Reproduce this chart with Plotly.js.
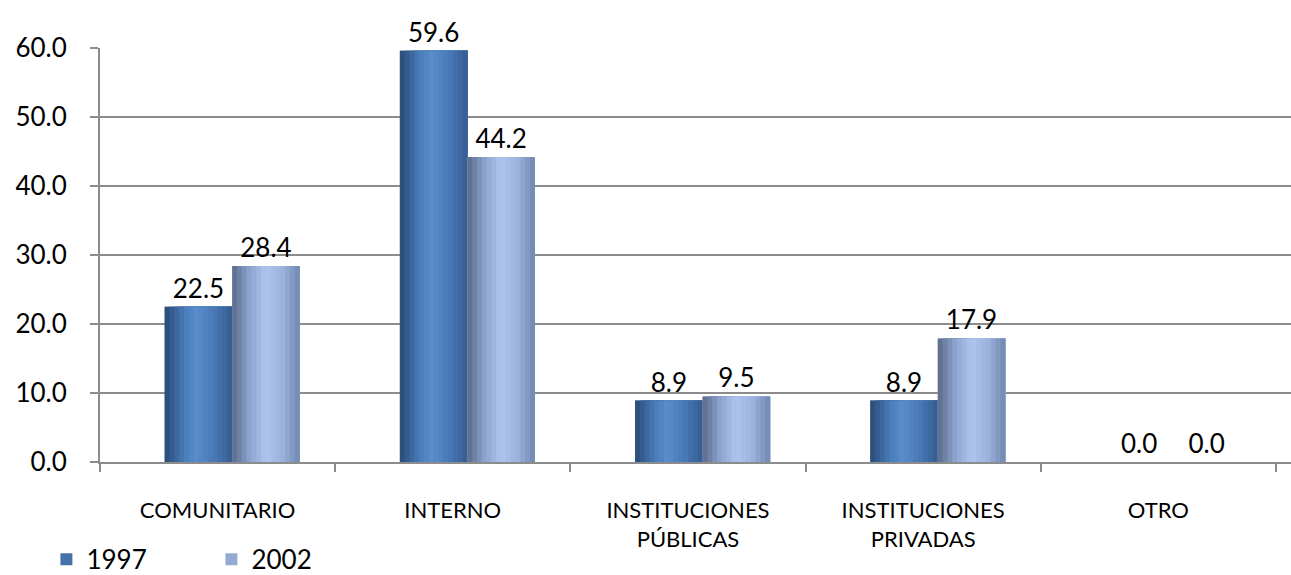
<!DOCTYPE html>
<html>
<head>
<meta charset="utf-8">
<script src="https://cdn.plot.ly/plotly-3.0.1.min.js"></script>
<style>html,body{margin:0;padding:0;background:#fff;}#chart{width:1291px;height:575px;}</style>
</head>
<body>
<div id="chart"></div>
<script>
// ---- data ----
const categories = ['COMUNITARIO', 'INTERNO', 'INSTITUCIONES<br>PÚBLICAS', 'INSTITUCIONES<br>PRIVADAS', 'OTRO'];
const seriesNames = ['1997', '2002'];
const values1997 = [22.5, 59.6, 8.9, 8.9, 0.0];
const values2002 = [28.4, 44.2, 9.5, 17.9, 0.0];

// ---- style ----
const FONT = 'Lato, "Open Sans", sans-serif';
const BAR_W = 0.287;
const SHIFT = 0.062;
const STRIPS = 14;
const legendColors = ['#4672aa', '#95aad2'];
const gradStops = [
  [[0, [42, 74, 117]], [0.3, [74, 125, 187]], [0.48, [90, 141, 204]], [0.75, [71, 119, 180]], [1, [53, 92, 145]]],
  [[0, [90, 106, 136]], [0.25, [139, 162, 204]], [0.5, [174, 198, 238]], [0.75, [154, 178, 220]], [1, [112, 136, 176]]]
];
function interp(stops, t) {
  for (let i = 0; i < stops.length - 1; i++) {
    const [t0, c0] = stops[i], [t1, c1] = stops[i + 1];
    if (t >= t0 && t <= t1) {
      const f = (t - t0) / (t1 - t0);
      return 'rgb(' + c0.map((v, k) => Math.round(v + (c1[k] - v) * f)).join(',') + ')';
    }
  }
  return 'rgb(' + stops[stops.length - 1][1].join(',') + ')';
}

const traces = [];
[values1997, values2002].forEach((vals, s) => {
  const start = (s === 0 ? -BAR_W : 0) + SHIFT;
  // base bar (legend + labels)
  traces.push({
    type: 'bar', x: categories, y: vals, name: seriesNames[s],
    offset: start, width: BAR_W,
    marker: {color: legendColors[s], line: {width: 0}},
    text: vals.map(v => v.toFixed(1)), textposition: 'outside',
    textfont: {family: FONT, size: 26, color: '#000'},
    cliponaxis: false, hoverinfo: 'skip'
  });
  // gradient strips
  for (let k = 0; k < STRIPS; k++) {
    const a = k / STRIPS;
    traces.push({
      type: 'bar', x: categories, y: vals, showlegend: false,
      offset: start + a * BAR_W, width: BAR_W * (1 - a),
      marker: {color: interp(gradStops[s], (k + 0.5) / STRIPS), line: {width: 0}},
      hoverinfo: 'skip'
    });
  }
});

const layout = {
  width: 1291, height: 575,
  margin: {l: 100, r: 0, t: 48, b: 113, autoexpand: false},
  paper_bgcolor: '#fff', plot_bgcolor: '#fff',
  barmode: 'overlay',
  showlegend: true,
  legend: {
    orientation: 'h', x: -0.045, xanchor: 'left', y: -0.235, yanchor: 'middle',
    font: {family: FONT, size: 26, color: '#000'}, entrywidth: 120, traceorder: 'normal'
  },
  xaxis: {
    type: 'category', range: [-0.5, 4.564],
    showgrid: false, showline: true, linecolor: '#8c8c8c', linewidth: 2,
    ticks: 'outside', tickson: 'boundaries', ticklen: 8, tickcolor: '#8c8c8c', tickwidth: 2,
    tickfont: {family: FONT, size: 22, color: '#000'}, ticklabelstandoff: 28
  },
  yaxis: {
    range: [0, 60], dtick: 10, tickformat: '.1f',
    showgrid: true, gridcolor: '#8c8c8c', gridwidth: 2,
    showline: true, linecolor: '#8c8c8c', linewidth: 2, zeroline: false,
    ticks: 'outside', ticklen: 8, tickcolor: '#8c8c8c', tickwidth: 2,
    tickfont: {family: FONT, size: 26, color: '#000'}, ticklabelstandoff: 18
  }
};

Plotly.newPlot('chart', traces, layout, {displayModeBar: false, staticPlot: true});
</script>
</body>
</html>
